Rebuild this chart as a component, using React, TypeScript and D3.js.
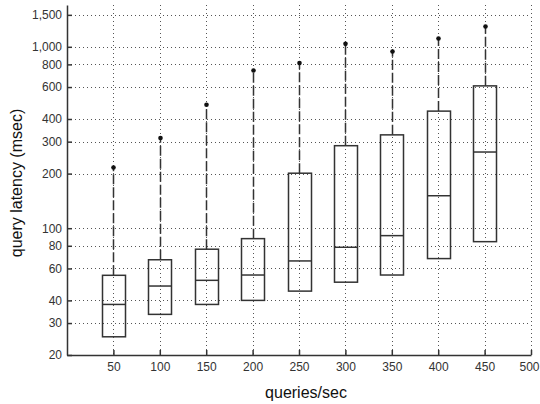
import React, { useEffect, useRef } from "react";
import * as d3 from "d3";

/* box stats per load level */
const RATES = [50, 100, 150, 200, 250, 300, 350, 400, 450];
const Q1 = [25.2, 33.5, 38, 40, 45, 50.4, 55.2, 68, 84.3];
const MEDIAN = [38, 48, 51.6, 55.2, 66, 78.5, 91, 151, 263];
const Q3 = [55, 67, 76.6, 87.6, 201, 285, 327, 442, 609];
const MAX = [216, 314, 479, 740, 813, 1038, 942, 1112, 1294];

const X_TICKS = [50, 100, 150, 200, 250, 300, 350, 400, 450, 500];
const Y_TICKS = [20, 30, 40, 60, 80, 100, 200, 300, 400, 600, 800, 1000, 1500];

export default function App() {
  const svgRef = useRef<SVGSVGElement>(null);

  useEffect(() => {
    document.body.style.margin = "0";

    const W = 540;
    const H = 404;
    const M = { top: 5, right: 9, bottom: 49, left: 67 };
    const iw = W - M.left - M.right;
    const ih = H - M.top - M.bottom;
    const ink = "#333";

    const x = d3.scaleLinear().domain([0, 500]).range([0, iw]);
    const y = d3.scaleLog().domain([20, 1700]).range([ih, 0]);

    const svg = d3.select(svgRef.current!);
    svg.selectAll("*").remove();
    svg.style("font-family", "'Liberation Sans', Arial, sans-serif");

    const g = svg.append("g").attr("transform", `translate(${M.left},${M.top})`);

    /* ---- dotted grid ---- */
    g.append("g")
      .selectAll("line")
      .data(Y_TICKS)
      .enter()
      .append("line")
      .attr("x1", 0)
      .attr("x2", iw)
      .attr("y1", (d) => Math.round(y(d)) + 0.5)
      .attr("y2", (d) => Math.round(y(d)) + 0.5)
      .attr("stroke", "#555")
      .attr("stroke-width", 1)
      .attr("stroke-dasharray", "1,3");

    g.append("g")
      .selectAll("line")
      .data(X_TICKS)
      .enter()
      .append("line")
      .attr("x1", (d) => Math.round(x(d)) + 0.5)
      .attr("x2", (d) => Math.round(x(d)) + 0.5)
      .attr("y1", 0)
      .attr("y2", ih)
      .attr("stroke", "#555")
      .attr("stroke-width", 1)
      .attr("stroke-dasharray", "1,3");

    /* ---- boxes ---- */
    const data = RATES.map((r, i) => ({
      r,
      q1: Q1[i],
      med: MEDIAN[i],
      q3: Q3[i],
      max: MAX[i],
    }));
    const bw = 23;

    const boxes = g.append("g").selectAll("g").data(data).enter().append("g");

    boxes
      .append("line")
      .attr("x1", (d) => Math.round(x(d.r)) + 0.5)
      .attr("x2", (d) => Math.round(x(d.r)) + 0.5)
      .attr("y1", (d) => y(d.q3))
      .attr("y2", (d) => y(d.max))
      .attr("stroke", ink)
      .attr("stroke-width", 1.5)
      .attr("stroke-dasharray", "10,3");

    boxes
      .append("circle")
      .attr("cx", (d) => Math.round(x(d.r)) + 0.5)
      .attr("cy", (d) => y(d.max))
      .attr("r", 2.3)
      .attr("fill", "#111");

    boxes
      .append("rect")
      .attr("x", (d) => Math.round(x(d.r) - bw / 2) + 0.5)
      .attr("y", (d) => y(d.q3))
      .attr("width", bw)
      .attr("height", (d) => y(d.q1) - y(d.q3))
      .attr("fill", "none")
      .attr("stroke", ink)
      .attr("stroke-width", 1.5);

    boxes
      .append("line")
      .attr("x1", (d) => Math.round(x(d.r) - bw / 2) + 0.5)
      .attr("x2", (d) => Math.round(x(d.r) + bw / 2) + 0.5)
      .attr("y1", (d) => y(d.med))
      .attr("y2", (d) => y(d.med))
      .attr("stroke", ink)
      .attr("stroke-width", 1.5);

    /* ---- axes ---- */
    const xAxis = g
      .append("g")
      .attr("transform", `translate(0,${ih})`)
      .call(
        d3
          .axisBottom(x)
          .tickValues(X_TICKS)
          .tickSizeInner(-5)
          .tickSizeOuter(0)
          .tickPadding(7)
      );
    const yAxis = g.append("g").call(
      d3
        .axisLeft(y)
        .tickValues(Y_TICKS)
        .tickFormat(d3.format(","))
        .tickSizeInner(-5)
        .tickSizeOuter(0)
        .tickPadding(5)
    );

    [xAxis, yAxis].forEach((a) => {
      a.select(".domain").attr("stroke", ink).attr("stroke-width", 1.5);
      a.selectAll(".tick line").attr("stroke", ink).attr("stroke-width", 1.5);
      a.selectAll(".tick text")
        .attr("fill", "#333")
        .style("font-size", "12px")
        .style("font-family", "'Liberation Sans', Arial, sans-serif");
    });
    // keep the last x label inside the frame
    xAxis
      .selectAll<SVGTextElement, number>(".tick text")
      .filter((d) => d === 500)
      .attr("dx", -2);

    /* ---- titles ---- */
    svg
      .append("text")
      .attr("x", 306)
      .attr("y", 398)
      .attr("text-anchor", "middle")
      .attr("fill", "#111")
      .style("font-size", "16px")
      .text("queries/sec");

    svg
      .append("text")
      .attr("transform", `translate(22,${M.top + ih / 2 + 3}) rotate(-90)`)
      .attr("text-anchor", "middle")
      .attr("fill", "#111")
      .style("font-size", "16px")
      .text("query latency (msec)");
  }, []);

  return <svg ref={svgRef} width={540} height={404} style={{ display: "block" }} />;
}
